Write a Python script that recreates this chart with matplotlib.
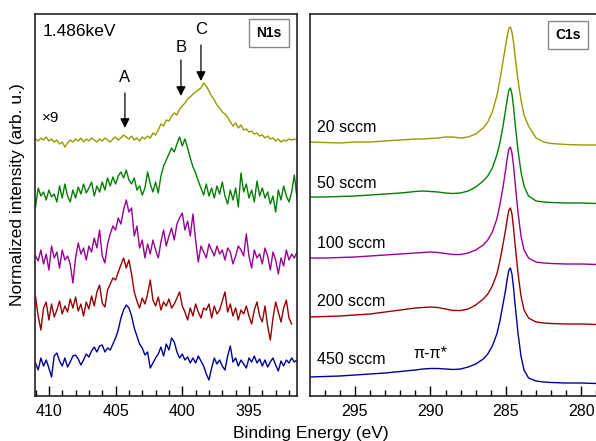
import numpy as np
import matplotlib
matplotlib.use("Agg")
import matplotlib.pyplot as plt
from matplotlib.ticker import MultipleLocator

plt.rcParams['font.family'] = ['Liberation Sans', 'DejaVu Sans']

# ---- N1s (x9), binding energy grid, 0.2 eV steps ----
e_n1s = np.round(np.arange(411.0, 391.3, -0.2), 1)

n1s_20 = [257, 255, 258, 256, 259, 255, 257, 254, 256, 252,
          254, 249, 253, 256, 254, 257, 255, 258, 254, 257,
          255, 258, 256, 254, 257, 255, 258, 256, 254, 257,
          259, 256, 258, 261, 259, 257, 260, 256, 258, 255,
          259, 257, 260, 258, 263, 261, 266, 272, 270, 276,
          275, 280, 283, 281, 287, 290, 293, 297, 299, 302,
          304, 306, 308, 313, 310, 305, 300, 296, 291, 288,
          284, 282, 279, 274, 270, 273, 268, 271, 266, 267,
          264, 265, 262, 263, 260, 261, 258, 260, 257, 258,
          255, 257, 254, 256, 255, 257, 256, 257, 256]
n1s_50 = [189, 208, 200, 204, 196, 206, 199, 202, 194, 210,
          198, 212, 200, 194, 206, 198, 209, 202, 212, 203,
          208, 214, 200, 210, 204, 214, 206, 218, 210, 219,
          212, 220, 224, 218, 226, 216, 212, 218, 206, 210,
          201, 208, 224, 212, 204, 214, 203, 220, 230, 236,
          242, 248, 244, 252, 259, 250, 257, 248, 238, 229,
          223, 215, 208, 201, 212, 200, 208, 198, 210, 202,
          214, 200, 192, 206, 196, 208, 189, 223, 204, 212,
          198, 206, 194, 215, 200, 208, 198, 204, 192, 200,
          184, 206, 196, 210, 200, 194, 204, 221, 198]
n1s_100 = [140, 135, 146, 132, 142, 126, 150, 138, 144, 128,
           146, 136, 140, 132, 113, 138, 153, 142, 148, 136,
           150, 144, 158, 148, 166, 140, 133, 152, 162, 170,
           166, 178, 172, 186, 196, 184, 188, 160, 170, 148,
           156, 138, 152, 142, 156, 146, 138, 154, 166, 150,
           160, 168, 156, 172, 178, 183, 166, 175, 160, 182,
           156, 134, 150, 144, 138, 152, 146, 140, 150, 142,
           146, 136, 148, 144, 132, 140, 150, 146, 140, 162,
           140, 128, 146, 138, 142, 132, 148, 140, 126, 144,
           136, 122, 138, 130, 146, 136, 142, 138, 144]
n1s_200 = [99, 80, 66, 88, 94, 76, 92, 79, 86, 95,
           82, 90, 84, 97, 88, 99, 85, 92, 80, 94,
           87, 100, 90, 104, 111, 93, 89, 106, 112, 118,
           116, 124, 131, 138, 128, 136, 122, 104, 95, 88,
           98, 92, 102, 116, 96, 90, 99, 86, 94, 90,
           97, 88, 92, 98, 104, 90, 84, 76, 88, 80,
           92, 84, 78, 88, 86, 92, 78, 90, 82, 86,
           95, 104, 84, 92, 80, 88, 76, 86, 82, 90,
           80, 72, 86, 94, 80, 74, 90, 70, 56, 78,
           94, 84, 74, 88, 96, 78, 72]
n1s_450 = [33, 26, 38, 30, 36, 28, 19, 40, 43, 35,
           30, 38, 29, 34, 40, 41, 37, 31, 36, 42,
           39, 45, 49, 44, 50, 51, 44, 48, 46, 52,
           58, 66, 78, 86, 91, 88, 80, 68, 60, 52,
           48, 41, 44, 28, 33, 38, 42, 49, 40, 52,
           46, 58, 54, 44, 38, 42, 36, 39, 33, 38,
           33, 40, 35, 30, 22, 16, 28, 38, 32, 36,
           30, 26, 40, 50, 34, 38, 30, 36, 32, 28,
           38, 34, 40, 33, 37, 30, 36, 29, 34, 38,
           31, 25, 35, 30, 36, 33, 38, 34, 36]

# ---- C1s ----
e_c1s = [298, 297, 296, 295, 294, 293, 292, 291, 290.5, 290, 289.5, 289,
         288.5, 288, 287.5, 287, 286.5, 286.2, 285.9, 285.6, 285.4, 285.2,
         285.0, 284.9, 284.8, 284.7, 284.6, 284.5, 284.4, 284.2, 284.0,
         283.8, 283.5, 283.0, 282.5, 282, 281, 280, 279]
c1s_20 = [254, 253.5, 253, 254, 254, 255, 256, 257, 257, 257.5, 258, 259,
          259, 258, 259, 262, 268, 274, 284, 300, 316, 334, 352, 361, 368,
          369, 364, 354, 341, 316, 296, 281, 270, 258, 254, 252.5, 251.5,
          251, 251]
c1s_50 = [199, 199, 199.5, 200, 201, 202, 203, 204.5, 205, 204.5, 204, 203,
          202.5, 203, 205, 209, 215, 220, 228, 241, 253, 269, 288, 298, 306,
          308, 302, 290, 274, 246, 224, 210, 200, 195, 194, 193.5, 193, 193,
          192.5]
c1s_100 = [138, 138, 138.5, 139, 140, 141, 142, 143, 143.5, 144, 143.5,
           142.5, 141.5, 141.5, 143, 146, 151, 156, 164, 177, 191, 208, 228,
           239, 247, 249, 243, 231, 215, 184, 160, 146, 138, 134, 133, 132.5,
           132, 132, 131.5]
c1s_200 = [79, 79.5, 80, 81, 82, 84, 86, 88, 88.5, 89, 88.5, 87, 85.5, 85.5,
           87, 91, 97, 102, 110, 122, 135, 151, 168, 178, 186, 188, 182, 169,
           153, 123, 100, 86, 78, 74, 73, 72.5, 72, 72, 71.5]
c1s_450 = [19, 19.5, 20, 21, 22, 23, 24.5, 26, 27, 27.5, 27.5, 27, 26.5, 27,
           29, 32, 37, 42, 50, 62, 75, 91, 108, 118, 126, 128, 122, 109, 93,
           63, 40, 26, 18, 15, 14, 13.5, 13, 13, 12.5]

labels = ["20 sccm", "50 sccm", "100 sccm", "200 sccm", "450 sccm"]
label_y = [268, 213, 153, 95, 37]
colors = ["#999900", "#008000", "#990099", "#990000", "#000099"]

n1s = [n1s_20, n1s_50, n1s_100, n1s_200, n1s_450]
c1s = [c1s_20, c1s_50, c1s_100, c1s_200, c1s_450]

fig = plt.figure(figsize=(5.96, 4.41), dpi=100)
W, H = 596, 441
ax1 = fig.add_axes([35 / W, 45 / H, 262 / W, 382 / H])
ax2 = fig.add_axes([310 / W, 45 / H, 294 / W, 382 / H])

for y, c in zip(n1s, colors):
    ax1.plot(e_n1s[:len(y)], y, color=c, lw=1.0)
for y, c in zip(c1s, colors):
    ax2.plot(e_c1s, y, color=c, lw=1.0)

ax1.set_xlim(411.04, 391.4)
ax2.set_xlim(297.98, 278.5)
for ax in (ax1, ax2):
    ax.set_ylim(0, 382)
    ax.set_yticks([])
    ax.xaxis.set_major_locator(MultipleLocator(5))
    ax.xaxis.set_minor_locator(MultipleLocator(1))
    ax.tick_params(axis='x', which='major', direction='in', length=7,
                   width=1, labelsize=11.5, pad=6)
    ax.tick_params(axis='x', which='minor', direction='in', length=4, width=1)
    for s in ax.spines.values():
        s.set_linewidth(1.2)
        s.set_color("#222222")

box = dict(boxstyle='square,pad=0.5', fc='white', ec='#888888', lw=1)

# N1s annotations
ax1.text(0.03, 0.975, "1.486keV", transform=ax1.transAxes, fontsize=12.5,
         va='top', ha='left')
ax1.text(0.893, 0.95, "N1s", transform=ax1.transAxes, fontsize=10,
         fontweight='bold', va='center', ha='center', bbox=box)
ax1.text(410.5, 278, "\u00d79", fontsize=11, va='center', ha='left')

arrows = [("A", 404.3, 268, 303, 318),
          ("B", 400.1, 300, 336, 349),
          ("C", 398.6, 315, 351, 367)]
for name, e, tip, tail, ty in arrows:
    ax1.annotate("", xy=(e, tip), xytext=(e, tail),
                 arrowprops=dict(arrowstyle='-|>', color='black', lw=0.9,
                                 mutation_scale=14, shrinkA=0, shrinkB=0))
    ax1.text(e, ty, name, fontsize=12, ha='center', va='center')

# C1s annotations
ax2.text(0.878, 0.946, "C1s", transform=ax2.transAxes, fontsize=10,
         fontweight='bold', va='center', ha='center', bbox=box)
for lab, ly in zip(labels, label_y):
    ax2.text(297.5, ly, lab, fontsize=11.5, ha='left', va='center')
ax2.text(290.0, 43, "\u03c0-\u03c0*", fontsize=11.5, ha='center', va='center')

fig.text(18 / W, 0.558, "Normalized intensity (arb. u.)", rotation=90,
         fontsize=12.5, ha='center', va='center')
fig.text(311 / W, 3 / H, "Binding Energy (eV)", fontsize=12.5, ha='center',
         va='baseline')

fig.savefig("out.png", dpi=100)
